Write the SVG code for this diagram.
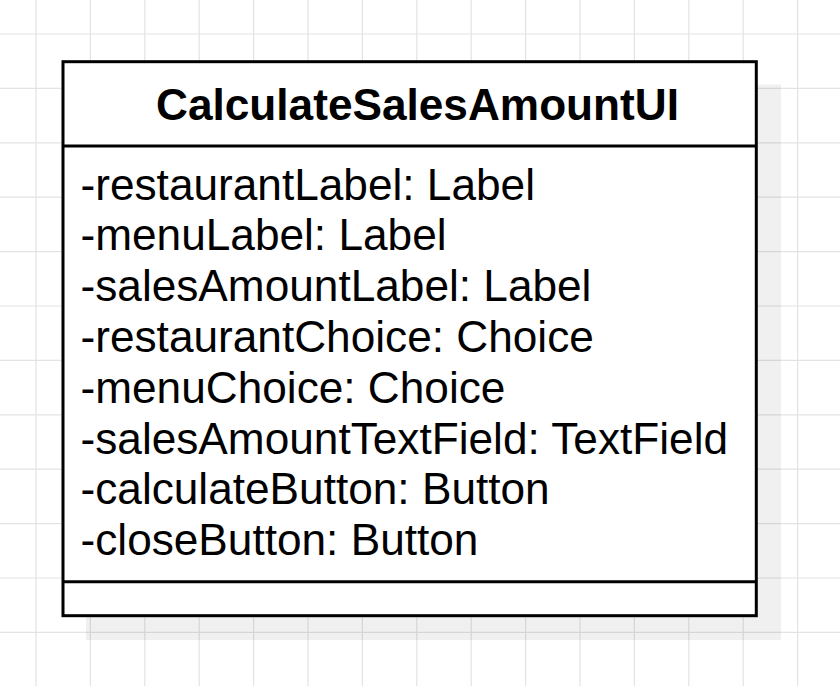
<svg xmlns="http://www.w3.org/2000/svg" width="840" height="686" viewBox="0 0 840 686">
  <style>
    .grid line { stroke: #e3e3e3; stroke-width: 1.2; }
    .box { fill: #ffffff; stroke: #000000; stroke-width: 3; }
    .sep { stroke: #000000; stroke-width: 3; }
    .shadow { fill: #000000; fill-opacity: 0.06; }
    .title { font-family: "Liberation Sans", Arial, sans-serif; font-weight: bold; font-size: 44.2px; fill: #000000; }
    .attr { font-family: "Liberation Sans", Arial, sans-serif; font-size: 44.2px; fill: #000000; }
  </style>
  <rect x="0" y="0" width="840" height="686" fill="#ffffff"/>
  <g class="grid">
    <line x1="36" y1="0" x2="36" y2="686"/>
    <line x1="90.4" y1="0" x2="90.4" y2="686"/>
    <line x1="144.8" y1="0" x2="144.8" y2="686"/>
    <line x1="199.2" y1="0" x2="199.2" y2="686"/>
    <line x1="253.6" y1="0" x2="253.6" y2="686"/>
    <line x1="308" y1="0" x2="308" y2="686"/>
    <line x1="362.4" y1="0" x2="362.4" y2="686"/>
    <line x1="416.8" y1="0" x2="416.8" y2="686"/>
    <line x1="471.2" y1="0" x2="471.2" y2="686"/>
    <line x1="525.6" y1="0" x2="525.6" y2="686"/>
    <line x1="580" y1="0" x2="580" y2="686"/>
    <line x1="634.4" y1="0" x2="634.4" y2="686"/>
    <line x1="688.8" y1="0" x2="688.8" y2="686"/>
    <line x1="743.2" y1="0" x2="743.2" y2="686"/>
    <line x1="797.6" y1="0" x2="797.6" y2="686"/>
    <line x1="0" y1="34" x2="840" y2="34"/>
    <line x1="0" y1="88.4" x2="840" y2="88.4"/>
    <line x1="0" y1="142.8" x2="840" y2="142.8"/>
    <line x1="0" y1="197.2" x2="840" y2="197.2"/>
    <line x1="0" y1="251.6" x2="840" y2="251.6"/>
    <line x1="0" y1="306" x2="840" y2="306"/>
    <line x1="0" y1="360.4" x2="840" y2="360.4"/>
    <line x1="0" y1="414.8" x2="840" y2="414.8"/>
    <line x1="0" y1="469.2" x2="840" y2="469.2"/>
    <line x1="0" y1="523.6" x2="840" y2="523.6"/>
    <line x1="0" y1="578" x2="840" y2="578"/>
    <line x1="0" y1="632.4" x2="840" y2="632.4"/>
  </g>
  <g id="connectors"></g>
  <g id="CalculateSalesAmountUI">
    <rect class="shadow" x="86" y="84.5" width="695" height="555.5"/>
    <rect class="box" x="63" y="61.7" width="693.3" height="554"/>
    <line class="sep" x1="63" y1="146" x2="756.3" y2="146"/>
    <line class="sep" x1="63" y1="581.7" x2="756.3" y2="581.7"/>
    <text class="title" x="417.5" y="120" text-anchor="middle">CalculateSalesAmountUI</text>
    <text class="attr" x="80.5" y="199.5">-restaurantLabel: Label</text>
    <text class="attr" x="80.5" y="250.3">-menuLabel: Label</text>
    <text class="attr" x="80.5" y="301.1">-salesAmountLabel: Label</text>
    <text class="attr" x="80.5" y="351.9">-restaurantChoice: Choice</text>
    <text class="attr" x="80.5" y="402.7">-menuChoice: Choice</text>
    <text class="attr" x="80.5" y="453.5">-salesAmountTextField: TextField</text>
    <text class="attr" x="80.5" y="504.3">-calculateButton: Button</text>
    <text class="attr" x="80.5" y="555.1">-closeButton: Button</text>
  </g>
</svg>
